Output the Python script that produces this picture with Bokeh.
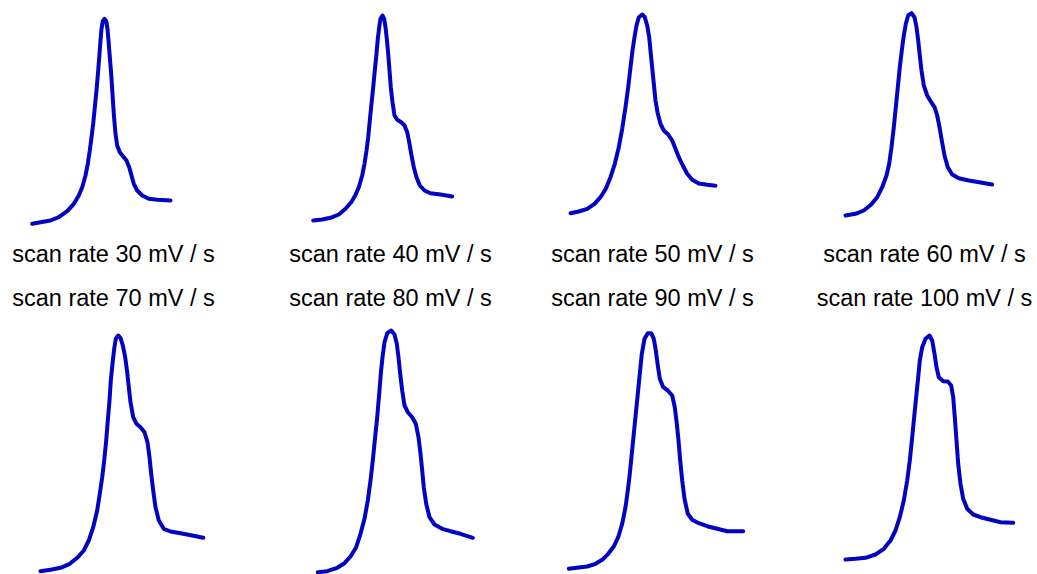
from bokeh.plotting import figure
from bokeh.layouts import column, row
from bokeh.models import Range1d
from bokeh.embed import file_html
from bokeh.resources import INLINE
from bokeh.core.properties import value

# Scan rates (mV / s) and the traced voltammetric peaks, one trace per rate
scan_rates = [30, 40, 50, 60, 70, 80, 90, 100]

e_30 = [31.7, 40, 50, 58.3, 66.7, 73.3, 78.3, 81.7, 85, 87.3, 89.3, 91, 92.7, 94.3, 96, 97.7, 99,
        100, 101, 102.3, 104, 105.7, 107, 108, 109.3, 110.7, 112, 113.3, 115, 116.7, 119.3, 122.7,
        126, 128.7, 131, 133.3, 136.7, 141.7, 148.3, 156.7, 170]
i_30 = [6.7, 8.3, 10, 13.3, 19.3, 26.7, 35, 43.3, 55, 66.7, 80, 93.3, 106.7, 123.3, 140, 160, 176.7,
        190, 201.7, 209.3, 211.7, 209.3, 201.7, 190, 173.3, 156.7, 136.7, 116.7, 96.7, 85, 78.3, 74,
        70, 63.3, 55, 46.7, 40, 35, 31.7, 30.7, 30]

e_40 = [53.7, 62.7, 71, 79.3, 86, 91.7, 95.7, 99.3, 102.7, 105, 107, 108.7, 110.3, 112, 113.7, 115.3,
        117, 118.3, 119.7, 121, 123, 124.7, 126, 127.3, 128.7, 130, 131.3, 133, 135, 137.7, 141.7,
        145, 147.7, 149.7, 151.7, 154.3, 157, 160.3, 165, 171, 181, 192.7]
i_40 = [10, 11, 12.7, 16, 21.7, 28.3, 35, 43.3, 55, 66.7, 80, 93.3, 110, 126.7, 143.3, 160, 176.7,
        191.7, 203.3, 211.7, 215, 211.7, 203.3, 191.7, 176.7, 160, 143.3, 128.3, 115, 110.7, 108.3,
        105, 98.3, 88.3, 76.7, 63.3, 53.3, 45, 40, 37.3, 36, 34]

e_50 = [52, 60.3, 68.7, 76, 82, 87.3, 92, 96.3, 100.3, 103.7, 107, 109.7, 112, 114, 116, 118, 120.3,
        123.7, 126.3, 128.7, 130.7, 132.3, 134, 135.3, 137, 139.3, 142, 145.3, 149.7, 153.7, 157,
        160.3, 164.3, 168.7, 173.7, 180.3, 188.7, 197]
i_50 = [17.3, 19, 21.7, 26.7, 33.3, 41.7, 53.3, 66.7, 83.3, 101.7, 123.3, 143.3, 163.3, 180, 193.3,
        205, 213.3, 216, 213.3, 205, 193.3, 176.7, 160, 146.7, 130, 116.7, 106.7, 100, 96, 90, 81.7,
        73.3, 65, 56.7, 50.7, 47, 45.7, 44.7]

e_60 = [67, 77, 85.3, 92.7, 98.7, 103.7, 108, 110.7, 113, 115.3, 117.3, 119.3, 121.3, 123.3, 125.3,
        127.3, 129.7, 133, 136, 138, 139.7, 141.3, 143, 145.3, 148.7, 152.7, 156, 158.7, 161, 163.3,
        166, 169.3, 173.7, 180.3, 190.3, 202, 213.7]
i_60 = [15, 16.7, 20, 26, 33.3, 43.3, 55, 66.7, 83.3, 103.3, 123.3, 143.3, 163.3, 180, 195, 206.7,
        215, 217.3, 213.3, 203.3, 190, 175, 160, 145, 135, 128.3, 123.3, 115, 103.3, 90, 75, 63.3,
        56, 52.3, 50, 48, 46]

e_70 = [40, 50, 60, 69.3, 76.7, 83.3, 88.3, 92.7, 96.7, 99.3, 101.7, 103.7, 105.7, 107.3, 109, 110.3,
        112, 113.7, 115.3, 117.7, 120, 122.3, 124.7, 126.7, 128.3, 130, 132.7, 136, 140, 144, 147,
        149, 150.7, 152.7, 155, 158.3, 163.3, 170, 180, 191.7, 202.7]
i_70 = [9.3, 10.7, 12.7, 16.7, 22.7, 30, 40, 53.3, 70, 86.7, 103.3, 120, 140, 160, 180, 200, 216.7,
        231.7, 241.7, 245, 242.7, 235, 223.3, 208.3, 193.3, 178.3, 163.3, 156.7, 153.3, 148.3, 138.3,
        123.3, 106.7, 90, 73.3, 60, 51.7, 49, 47.3, 45, 42.7]

e_80 = [58.3, 67.7, 77.7, 85, 91, 96.7, 101, 105, 108.3, 111, 113.3, 115.3, 117.7, 119.7, 121.3, 123,
        125, 127.7, 131.7, 135, 137.3, 139, 140.7, 142.7, 145, 148.3, 152.7, 156.3, 159, 161, 162.7,
        164.3, 166.7, 170, 175, 182.7, 191, 201, 213.3]
i_80 = [8.3, 9.3, 12.7, 17.3, 24, 33.3, 46.7, 61.7, 80, 100, 120, 140, 163.3, 186.7, 206.7, 223.3,
        238.3, 247.3, 250, 246, 236.7, 223.3, 206.7, 190, 175, 168.3, 163.3, 156.7, 143.3, 126.7, 110,
        93.3, 76.7, 63.3, 56, 51.7, 49.3, 46.7, 42.7]

e_90 = [50.3, 60.3, 68.7, 77, 83.7, 89.7, 95.3, 99.7, 103.7, 107, 109.3, 111.3, 113.3, 115.3, 117.3,
        119.3, 121.3, 123.3, 126, 129.3, 132.7, 135.3, 137.3, 139.3, 141.3, 144.7, 149.3, 153.7, 156.3,
        158.3, 160, 161.7, 163.7, 166, 169.3, 173.7, 180.3, 188.7, 198.7, 208.7, 224.7]
i_90 = [11.7, 13, 14, 16.7, 20.7, 26.7, 34, 43.3, 56.7, 73.3, 90, 106.7, 126.7, 146.7, 166.7, 186.7,
        206.7, 226.7, 241.7, 247.3, 247.3, 241.7, 230, 215, 201.7, 193.3, 190, 185, 173.3, 156.7, 140,
        120, 100, 81.7, 66.7, 60.7, 57.3, 54.3, 51.7, 49.3, 49.3]

e_100 = [67, 77, 87, 97, 105.3, 112, 117, 121.3, 125.3, 128.7, 131.3, 133.7, 136, 138, 139.7, 141.3,
         143.7, 147, 151, 153.7, 156, 158, 160.3, 164.7, 169.3, 172.7, 174.7, 176.3, 178, 179.7, 182,
         184.7, 188.7, 194.7, 202, 212, 222, 234.7]
i_100 = [21, 21.7, 22.7, 26, 31.7, 40, 50, 63.3, 80, 100, 120, 143.3, 166.7, 186.7, 203.3, 220, 233.3,
         241.7, 245, 240, 226.7, 213.3, 203.3, 199.3, 199, 195, 183.3, 163.3, 140, 116.7, 96.7, 81.7,
         71.7, 66, 63.3, 60.7, 58.3, 57.7]

potentials = [e_30, e_40, e_50, e_60, e_70, e_80, e_90, e_100]
currents = [i_30, i_40, i_50, i_60, i_70, i_80, i_90, i_100]
labels = [f"scan rate {r} mV / s" for r in scan_rates]

LINE_COLOR = "#0303c2"
FONT = "Liberation Sans"

col_widths = [259, 259, 260, 259]
label_x = [113, 131, 134, 146]


def panel(k, top):
    w = col_widths[k % 4]
    if top:
        h, y_rng, label_y = 274, (-44, 230), -23
    else:
        h, y_rng, label_y = 300, (6, 306), 283
    p = figure(width=w, height=h, output_backend="svg", toolbar_location=None,
               x_range=Range1d(0, w), y_range=Range1d(*y_rng),
               min_border=0, outline_line_color=None)
    p.axis.visible = False
    p.grid.visible = False
    p.line(potentials[k], currents[k], line_color=LINE_COLOR, line_width=4,
           line_join="round", line_cap="round")
    p.text(x=[label_x[k % 4]], y=[label_y], text=[labels[k]],
           text_font=value(FONT), text_font_size="23.5px", text_color="#000000",
           text_align="center", text_baseline="middle")
    return p


top_row = row(*[panel(k, True) for k in range(4)])
bottom_row = row(*[panel(k, False) for k in range(4, 8)])
layout = column(top_row, bottom_row)

open("out.html", "w").write(file_html(layout, INLINE))
